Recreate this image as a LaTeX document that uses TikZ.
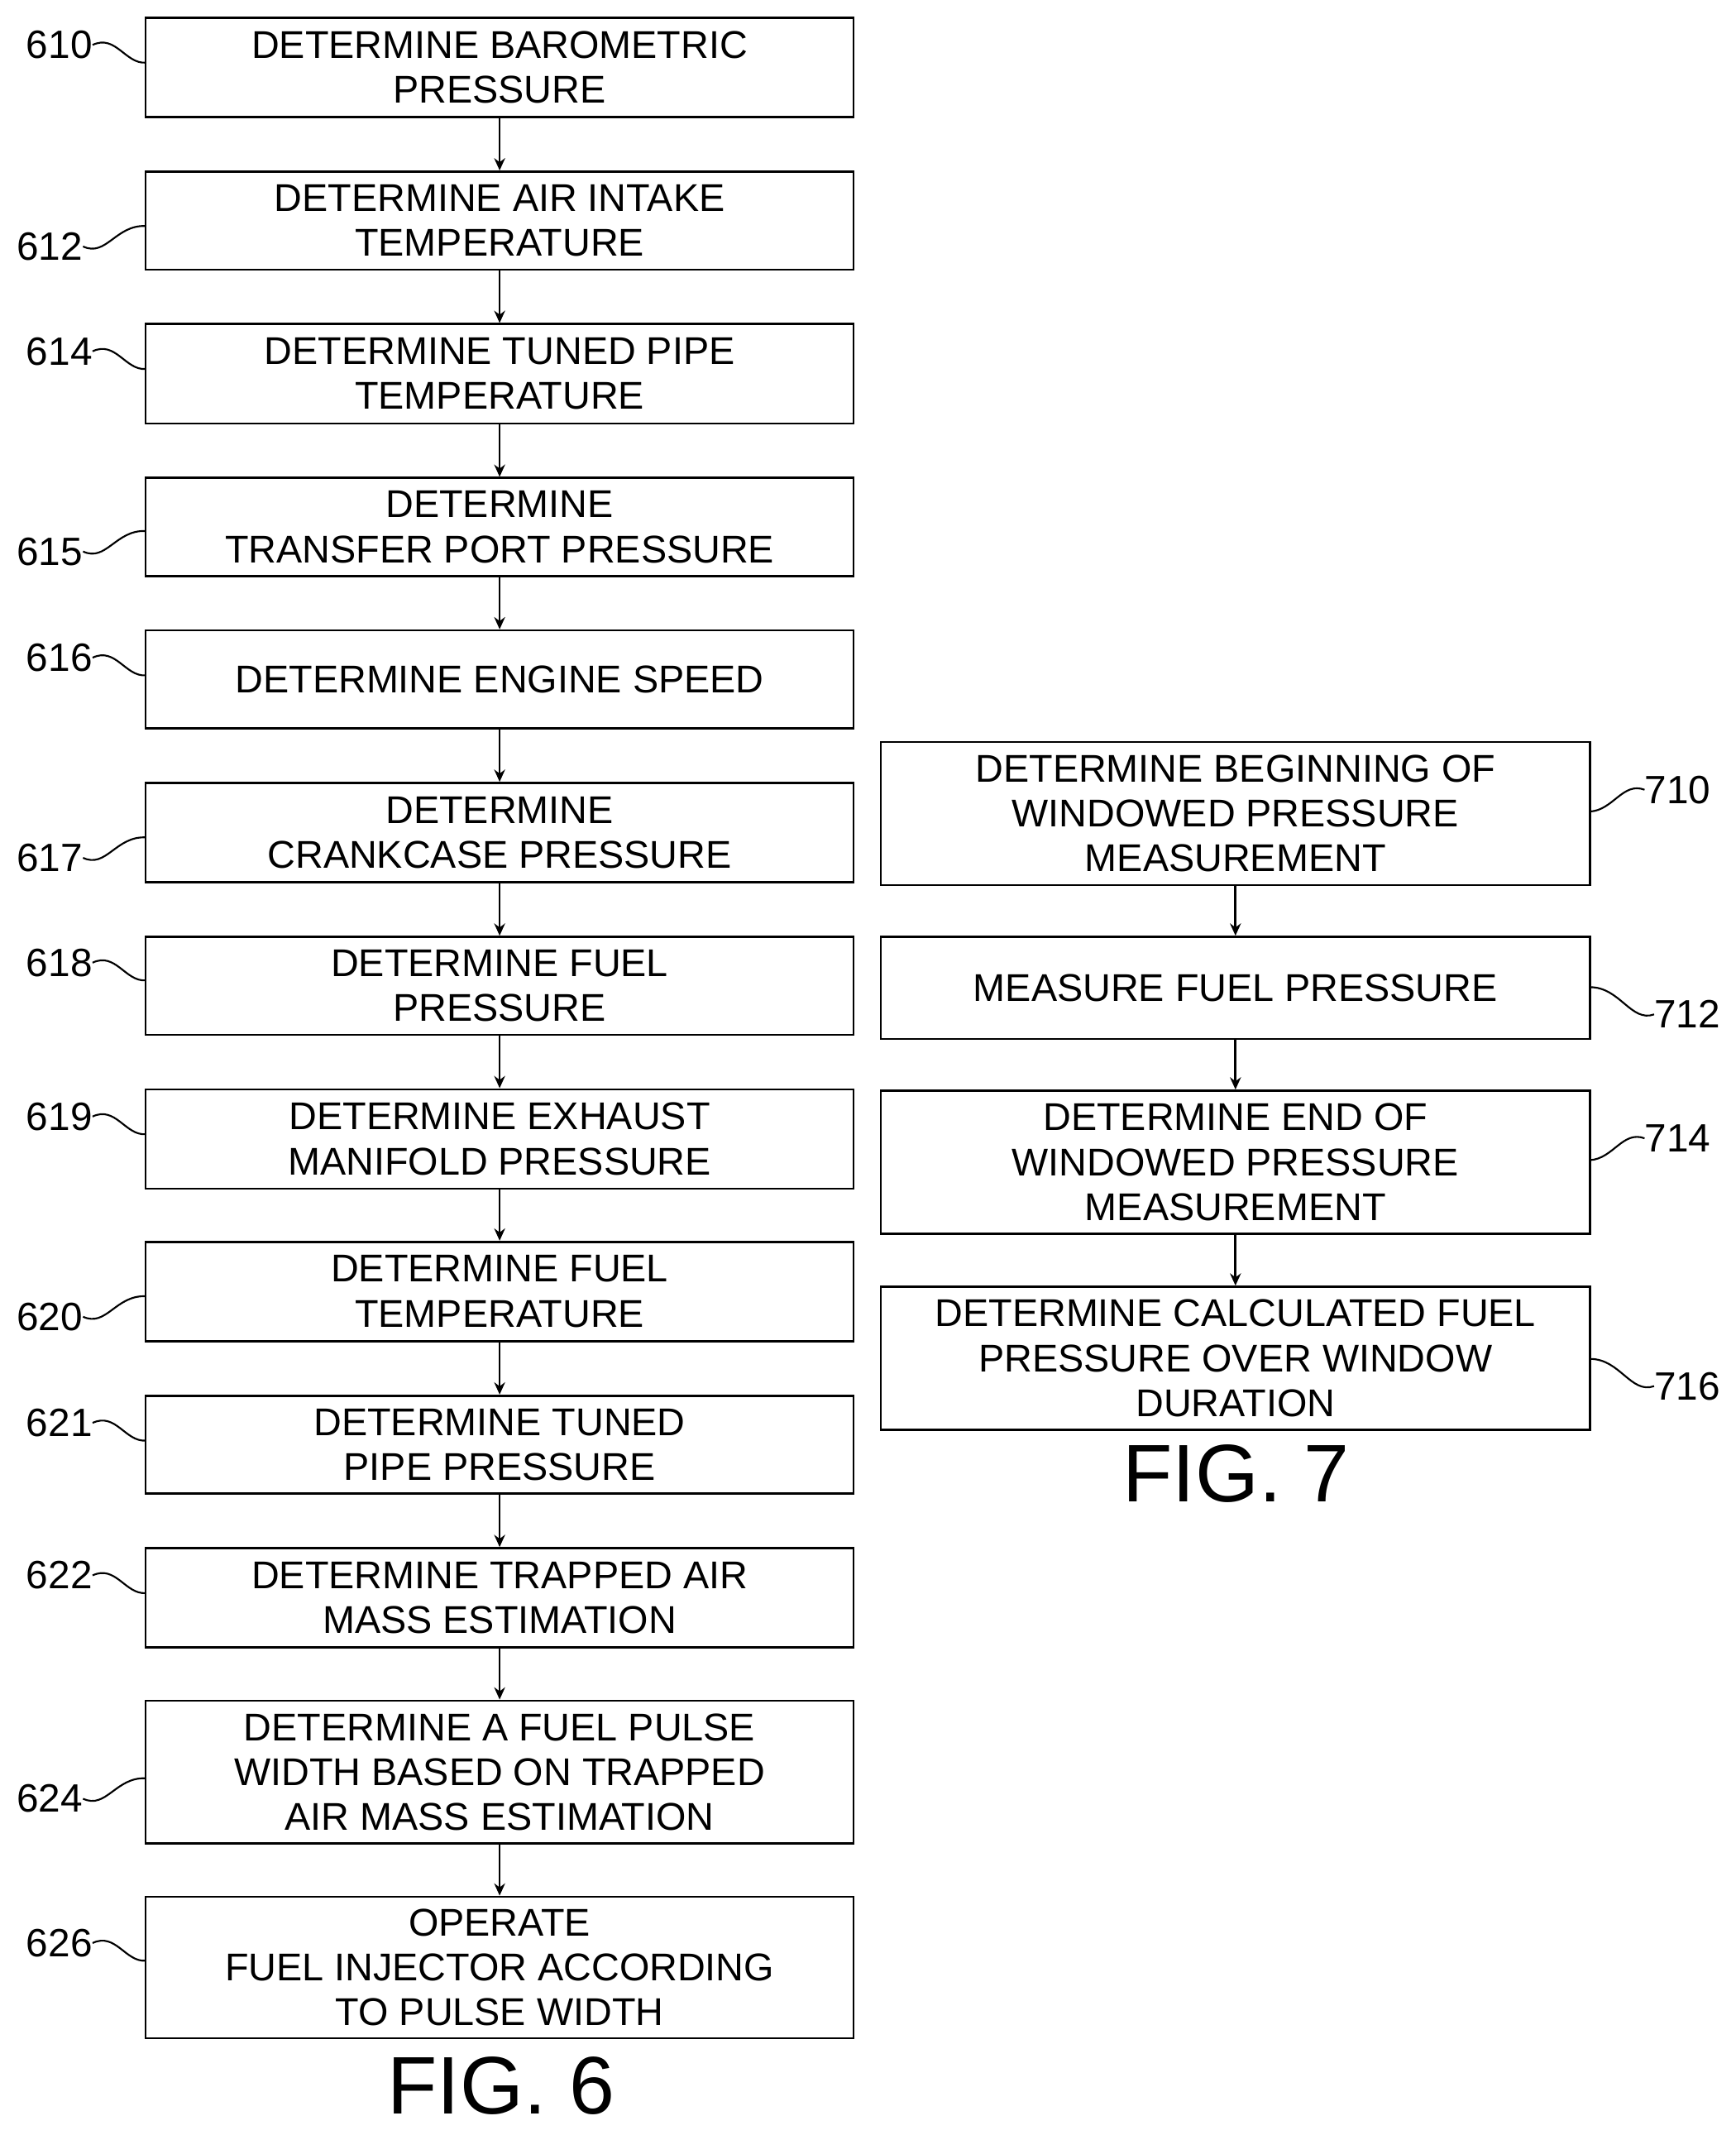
\documentclass[tikz,border=0pt]{standalone}
\usepackage{fontspec}
\setmainfont{Liberation Sans}
\usetikzlibrary{arrows.meta}
\begin{document}
\begin{tikzpicture}[x=1pt,y=-1pt,
 box/.style={draw,line width=1.6pt,align=center,font=\fontsize{28.4}{33}\selectfont,inner sep=0pt},
 lab/.style={font=\fontsize{29}{30}\selectfont,inner sep=0pt},
 arr/.style={line width=1.6pt,-{Stealth[length=9pt,width=8pt]}},
 sq/.style={line width=1.3pt}]
\useasboundingbox (0,0) rectangle (1275,1568);
\newcommand{\lbox}[4]{\node[box,minimum width=520pt,minimum height=#3pt-#2pt] (#1) at (367,{(#2+#3)/2}) {#4};}
\newcommand{\rbox}[4]{\node[box,minimum width=521pt,minimum height=#3pt-#2pt] (#1) at (907.5,{(#2+#3)/2}) {#4};}
\lbox{b610}{13}{86}{DETERMINE BAROMETRIC\\PRESSURE}
\lbox{b612}{126}{198}{DETERMINE AIR INTAKE\\TEMPERATURE}
\lbox{b614}{238}{311}{DETERMINE TUNED PIPE\\TEMPERATURE}
\lbox{b615}{351}{423}{DETERMINE\\TRANSFER PORT PRESSURE}
\lbox{b616}{463}{535}{DETERMINE ENGINE SPEED}
\lbox{b617}{575}{648}{DETERMINE\\CRANKCASE PRESSURE}
\lbox{b618}{688}{760}{DETERMINE FUEL\\PRESSURE}
\lbox{b619}{800}{873}{DETERMINE EXHAUST\\MANIFOLD PRESSURE}
\lbox{b620}{912}{985}{DETERMINE FUEL\\TEMPERATURE}
\lbox{b621}{1025}{1097}{DETERMINE TUNED\\PIPE PRESSURE}
\lbox{b622}{1137}{1210}{DETERMINE TRAPPED AIR\\MASS ESTIMATION}
\lbox{b624}{1249}{1354}{DETERMINE A FUEL PULSE\\WIDTH BASED ON TRAPPED\\AIR MASS ESTIMATION}
\lbox{b626}{1393}{1497}{OPERATE\\FUEL INJECTOR ACCORDING\\TO PULSE WIDTH}
\rbox{b710}{545}{650}{DETERMINE BEGINNING OF\\WINDOWED PRESSURE\\MEASUREMENT}
\rbox{b712}{688}{763}{MEASURE FUEL PRESSURE}
\rbox{b714}{801}{906}{DETERMINE END OF\\WINDOWED PRESSURE\\MEASUREMENT}
\rbox{b716}{945}{1050}{DETERMINE CALCULATED FUEL\\PRESSURE OVER WINDOW\\DURATION}
\foreach \a/\b in {b610/b612,b612/b614,b614/b615,b615/b616,b616/b617,b617/b618,b618/b619,b619/b620,b620/b621,b621/b622,b622/b624,b624/b626,b710/b712,b712/b714,b714/b716}
  \draw[arr] (\a.south) -- (\b.north);
\node[font=\fontsize{60}{60}\selectfont] (f6) at (368,1532) {FIG. 6};
\node[font=\fontsize{60}{60}\selectfont] (f7) at (908,1082) {FIG. 7};
\foreach \n/\y in {610/33,614/258,616/483,618/707,619/820,621/1045,622/1157,626/1427}{
  \node[lab,anchor=east] (l\n) at (68,\y) {\n};
  \draw[sq] (l\n.east) .. controls (85,\y-8) and (92,\y+14) .. (107,\y+13);
}
\foreach \n/\y in {612/181,615/405,617/630,620/967,624/1321}{
  \node[lab,anchor=east] (l\n) at (61,\y) {\n};
  \draw[sq] (l\n.east) .. controls (78,\y+8) and (85,\y-16) .. (107,\y-15);
}
\foreach \n/\y in {710/580,714/836}{
  \node[lab,anchor=west] (l\n) at (1208,\y) {\n};
  \draw[sq] (l\n.west) .. controls (1192,\y-6) and (1185,\y+15) .. (1168,\y+16);
}
\foreach \n/\y in {712/745,716/1018}{
  \node[lab,anchor=west] (l\n) at (1215,\y) {\n};
  \draw[sq] (l\n.west) .. controls (1198,\y+6) and (1190,\y-20) .. (1168,\y-20);
}
\end{tikzpicture}
\end{document}
